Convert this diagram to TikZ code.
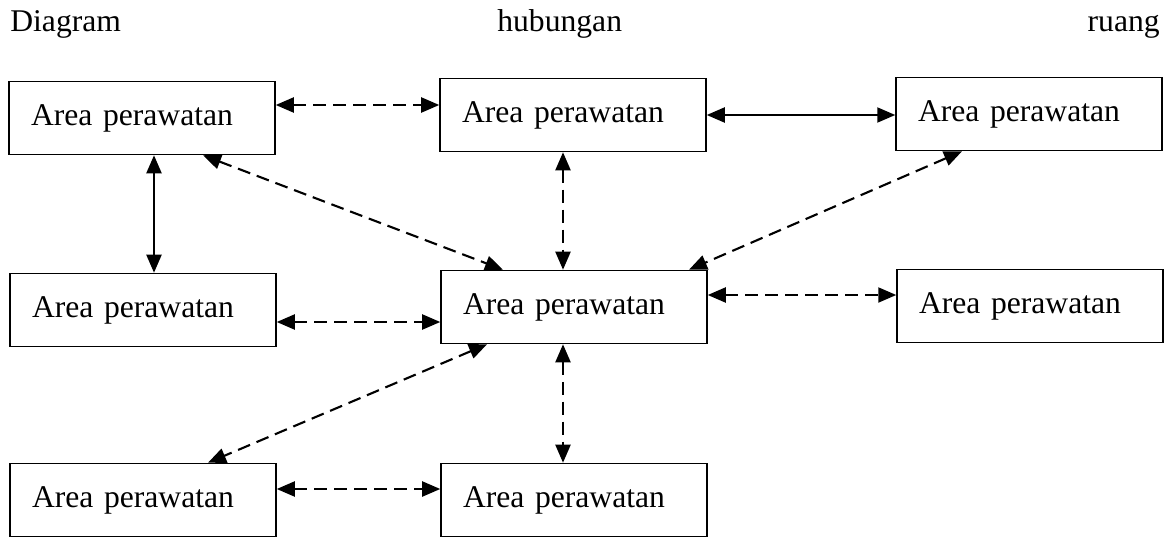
\documentclass[tikz,border=0pt]{standalone}
\usepackage{fontspec}
\setmainfont{Liberation Serif}
\usepackage{tikz}
\usetikzlibrary{arrows.meta,calc}

\begin{document}
\begin{tikzpicture}[x=0.02cm, y=-0.02cm,
	area/.style={draw, line width=0.9pt, text width=4.44cm, inner xsep=0.44cm, inner ysep=0pt, minimum height=1.46cm, align=left, font=\fontsize{18}{22}\selectfont},
	link/.style={line width=1.2pt, {Triangle[length=0.36cm,width=0.3cm]}-{Triangle[length=0.36cm,width=0.3cm]}},
	dlink/.style={link, dash pattern=on 0.26cm off 0.14cm}]

	\useasboundingbox (0,0) rectangle (1169,537);

	% heading line
	\node[anchor=base west, inner sep=0pt, font=\fontsize{18}{22}\selectfont] (h1) at (10,32) {Diagram};
	\node[anchor=base west, inner sep=0pt, font=\fontsize{18}{22}\selectfont] (h2) at (497,32) {hubungan};
	\node[anchor=base east, inner sep=0pt, font=\fontsize{18}{22}\selectfont] (h3) at (1160,32) {ruang};

	% boxes
	\node[area] (a1) at (142,118) {Area perawatan};
	\node[area] (a2) at (573,115) {Area perawatan};
	\node[area] (a3) at (1029,114) {Area perawatan};
	\node[area] (b1) at (143,310) {Area perawatan};
	\node[area] (b2) at (574,307) {Area perawatan};
	\node[area] (b3) at (1030,306) {Area perawatan};
	\node[area] (c1) at (143,500) {Area perawatan};
	\node[area] (c2) at (574,500) {Area perawatan};

	% top row
	\draw[dlink] ($(a1.east)+(0,-13)$) coordinate (p1) -- (p1 -| a2.west);
	\draw[link] (a2.east) -- (a2.east -| a3.west);

	% into the middle box
	\draw[link] ($(a1.south)+(12,0)$) coordinate (p2) -- (p2 |- b1.north);
	\draw[dlink] ($(a1.south)+(61,0)$) -- ($(b2.north)+(-71,0)$);
	\draw[dlink] ($(a2.south)+(-10,0)$) coordinate (p3) -- (p3 |- b2.north);
	\draw[dlink] ($(a3.south)+(-67,0)$) -- ($(b2.north)+(115,0)$);
	\draw[dlink] ($(b1.east)+(0,12)$) coordinate (p4) -- (p4 -| b2.west);
	\draw[dlink] ($(b2.east)+(0,-12)$) coordinate (p5) -- (p5 -| b3.west);

	% bottom row
	\draw[dlink] ($(b2.south)+(-87,0)$) -- ($(c1.north)+(65,0)$);
	\draw[dlink] ($(b2.south)+(-11,0)$) coordinate (p6) -- (p6 |- c2.north);
	\draw[dlink] ($(c1.east)+(0,-11)$) coordinate (p7) -- (p7 -| c2.west);

\end{tikzpicture}
\end{document}
